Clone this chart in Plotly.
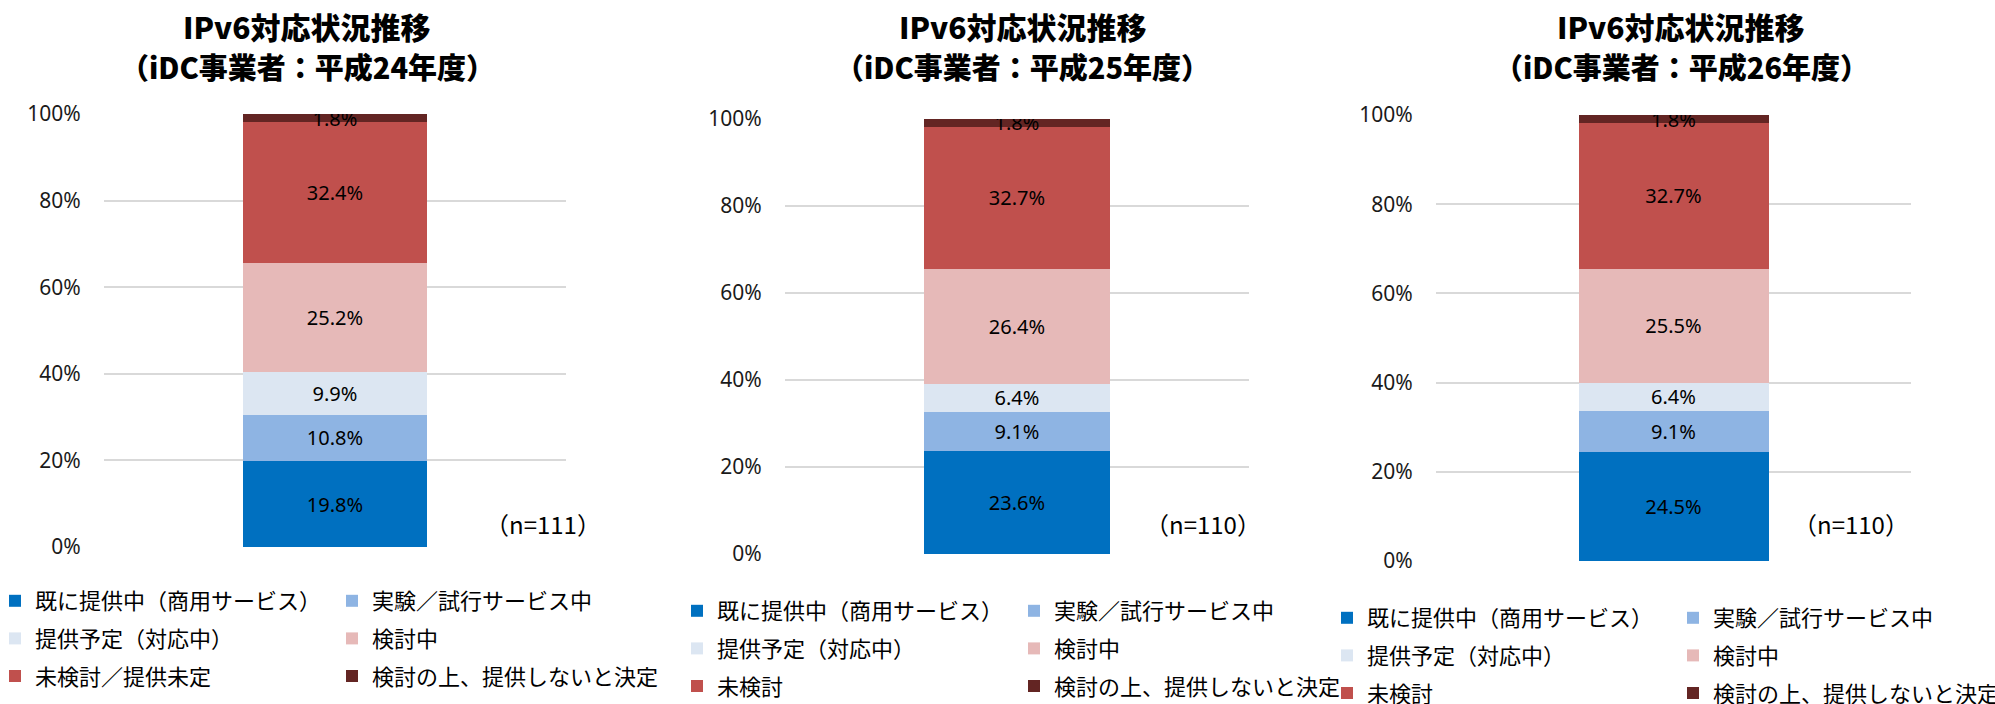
import plotly.graph_objects as go

# ---------------- data ----------------
years = ["平成24年度", "平成25年度", "平成26年度"]
n_values = [111, 110, 110]

labels_h24 = ["既に提供中（商用サービス）", "実験／試行サービス中", "提供予定（対応中）",
              "検討中", "未検討／提供未定", "検討の上、提供しないと決定"]
labels_h25 = ["既に提供中（商用サービス）", "実験／試行サービス中", "提供予定（対応中）",
              "検討中", "未検討", "検討の上、提供しないと決定"]
labels_h26 = ["既に提供中（商用サービス）", "実験／試行サービス中", "提供予定（対応中）",
              "検討中", "未検討", "検討の上、提供しないと決定"]

values_h24 = [19.8, 10.8, 9.9, 25.2, 32.4, 1.8]
values_h25 = [23.6, 9.1, 6.4, 26.4, 32.7, 1.8]
values_h26 = [24.5, 9.1, 6.4, 25.5, 32.7, 1.8]

y_ticks = [0, 20, 40, 60, 80, 100]
y_ticktext = ["0%", "20%", "40%", "60%", "80%", "100%"]

colors = ["#0070C0", "#8EB4E3", "#DCE6F2", "#E6B9B8", "#C0504D", "#632523"]

# ---------------- layout geometry (pixels) ----------------
W, H = 1995, 704
panels = [
    dict(x0=104, x1=566, y0=114, y1=547, title_x=307, n_right=603,
         leg=[(-5, 580), (332, 580)]),
    dict(x0=785, x1=1249, y0=119, y1=554, title_x=1023, n_right=1263,
         leg=[(677, 590), (1014, 590)]),
    dict(x0=1436, x1=1911, y0=115, y1=561, title_x=1681, n_right=1911,
         leg=[(1327, 597), (1673, 597)]),
]

all_labels = [labels_h24, labels_h25, labels_h26]
all_values = [values_h24, values_h25, values_h26]

def px(x):
    return x / W

def py(y):
    return 1 - y / H

fig = go.Figure()
layout = {}
annotations = []

for p, (geo, labels, vals) in enumerate(zip(panels, all_labels, all_values)):
    ax_suffix = "" if p == 0 else str(p + 1)
    for k, (lab, v) in enumerate(zip(labels, vals)):
        leg_idx = p * 2 + (k % 2)
        leg_name = "legend" if leg_idx == 0 else f"legend{leg_idx + 1}"
        fig.add_trace(go.Bar(
            x=[0], y=[v], name=lab,
            marker=dict(color=colors[k], line=dict(width=0)),
            width=0.4,
            texttemplate="%{y:.1f}%",
            textposition="inside",
            insidetextanchor="middle",
            textangle=0,
            constraintext="none",
            textfont=dict(family="Noto Sans", size=20, color="#000000"),
            xaxis="x" + ax_suffix, yaxis="y" + ax_suffix,
            legend=leg_name,
            legendgroup=f"p{p}_{k}",
            hoverinfo="name+y",
        ))
    layout["xaxis" + ax_suffix] = dict(
        domain=[px(geo["x0"]), px(geo["x1"])],
        anchor="y" + ax_suffix,
        range=[-0.5, 0.5], showgrid=False, zeroline=False,
        showticklabels=False, showline=False, fixedrange=True,
    )
    layout["yaxis" + ax_suffix] = dict(
        domain=[py(geo["y1"]), py(geo["y0"])],
        anchor="x" + ax_suffix,
        range=[0, 100], tickmode="array", tickvals=y_ticks, ticktext=y_ticktext,
        showgrid=True, gridcolor="#D9D9D9", gridwidth=2,
        zeroline=False, showline=False,
        ticks="outside", ticklen=18, tickcolor="rgba(0,0,0,0)",
        tickfont=dict(family="Noto Sans", size=21, color="#1a1a1a"),
        fixedrange=True,
    )
    # two legends per panel (left / right column)
    for c in range(2):
        leg_idx = p * 2 + c
        leg_name = "legend" if leg_idx == 0 else f"legend{leg_idx + 1}"
        lx, ly = geo["leg"][c]
        layout[leg_name] = dict(
            x=px(lx), y=py(ly), xanchor="left", yanchor="top",
            orientation="v", traceorder="grouped", tracegroupgap=6,
            bgcolor="rgba(0,0,0,0)", borderwidth=0,
            font=dict(family="Noto Sans CJK JP", size=22, color="#000000"),
        )
    # titles
    annotations.append(dict(
        text="IPv6対応状況推移", x=px(geo["title_x"]), y=py(26),
        xref="paper", yref="paper", xanchor="center", yanchor="middle",
        showarrow=False,
        font=dict(family="Noto Sans CJK JP", size=30, color="#000000", weight=900),
    ))
    annotations.append(dict(
        text=f"（iDC事業者：{years[p]}）", x=px(geo["title_x"]), y=py(66),
        xref="paper", yref="paper", xanchor="center", yanchor="middle",
        showarrow=False,
        font=dict(family="Noto Sans CJK JP", size=29, color="#000000", weight=900),
    ))
    # n annotation
    annotations.append(dict(
        text=f"（n={n_values[p]}）", x=px(geo["n_right"]), y=py(523),
        xref="paper", yref="paper", xanchor="right", yanchor="middle",
        showarrow=False,
        font=dict(family="Noto Sans CJK JP", size=24, color="#000000"),
    ))

fig.update_layout(
    width=W, height=H,
    margin=dict(l=0, r=0, t=0, b=0, autoexpand=False),
    paper_bgcolor="white", plot_bgcolor="white",
    barmode="stack",
    showlegend=True,
    annotations=annotations,
    **layout,
)

fig.write_html(
    "out.html",
    config={"displayModeBar": False},
    post_script="document.body.style.margin='0';document.body.style.overflow='hidden';",
)
